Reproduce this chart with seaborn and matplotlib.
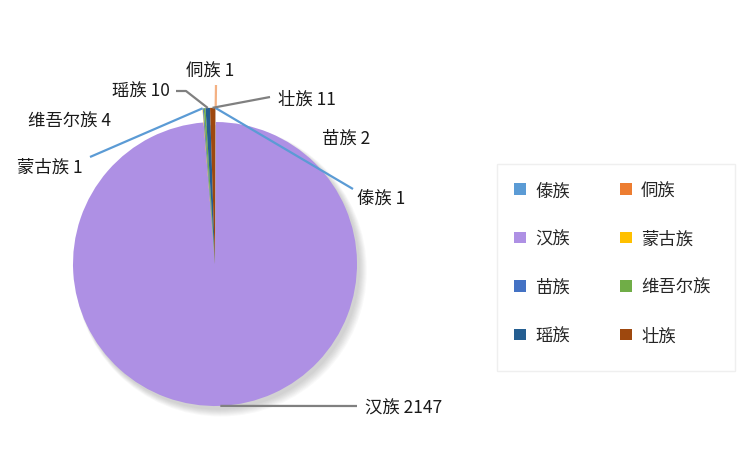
import numpy as np
import matplotlib
matplotlib.use('Agg')
import matplotlib.pyplot as plt
from matplotlib.patches import Circle, Rectangle
import seaborn as sns

# --- data ---
groups = ['傣族', '侗族', '汉族', '蒙古族', '苗族', '维吾尔族', '瑶族', '壮族']
counts = [1, 1, 2147, 1, 2, 4, 10, 11]
colors = ['#5B9BD5', '#ED7D31', '#AE90E4', '#FFC000',
          '#4472C4', '#70AD47', '#255E91', '#9E480E']

# --- layout (pixels of the 751x452 output) ---
W, H = 751, 452
CX, CY, R = 215, 265, 142


def px(x, y):
    return ((x - CX) / R, (CY - y) / R)


# label text position (px) and alignment
label_pos = {
    '傣族': (357, 199, 'left'),
    '侗族': (210, 72, 'center'),
    '汉族': (365, 409, 'left'),
    '蒙古族': (17, 168, 'left'),
    '苗族': (322, 139, 'left'),
    '维吾尔族': (28, 122, 'left'),
    '瑶族': (170, 92, 'right'),
    '壮族': (278, 100, 'left'),
}
# leader line points (px), drawn from the wedge outward
leaders = {
    '傣族': ([(353, 190)], '#5B9BD5'),
    '侗族': ([(216, 86)], '#F4B183'),
    '汉族': ([(357, 407)], '#808080'),
    '蒙古族': ([(90, 158)], '#5B9BD5'),
    '瑶族': ([(186, 92), (176, 92)], '#808080'),
    '壮族': ([(270, 98)], '#808080'),
}

sns.set_theme(style='white')
plt.rcParams['font.family'] = ['Noto Sans CJK SC', 'DejaVu Sans']

fig = plt.figure(figsize=(W / 100, H / 100), dpi=100)
ax = fig.add_axes([0, 0, 1, 1])

# soft shadow under the pie
for i in range(8):
    ax.add_patch(Circle((0.02 + 0.003 * i, -0.025 - 0.003 * i), 1.0 + 0.004 * i,
                        color='#555555', alpha=0.035, lw=0, zorder=0))

wedges, _ = ax.pie(counts, colors=colors, startangle=90, counterclock=False,
                   wedgeprops=dict(linewidth=0), radius=1.0)
for w in wedges:
    w.set_zorder(2)

# small slices poke out a little past the big one
big = counts.index(max(counts))
for i, w in enumerate(wedges):
    if i != big:
        w.set_radius(1.1)
        w.set_zorder(3)

# data labels with leader lines
for i, w in enumerate(wedges):
    name = groups[i]
    mid = np.deg2rad((w.theta1 + w.theta2) / 2)
    r = w.r
    anchor = (r * np.cos(mid), r * np.sin(mid))
    if name in leaders:
        pts, lc = leaders[name]
        xs = [anchor[0]] + [px(*p)[0] for p in pts]
        ys = [anchor[1]] + [px(*p)[1] for p in pts]
        ax.plot(xs, ys, color=lc, lw=1.6, zorder=4, solid_capstyle='butt')
    tx, ty, ha = label_pos[name]
    x, y = px(tx, ty)
    ax.text(x, y, f'{name} {counts[i]}', ha=ha, va='center',
            fontsize=12.5, color='#1a1a1a', zorder=5)

ax.set_xlim(-CX / R, (W - CX) / R)
ax.set_ylim(-(H - CY) / R, CY / R)
ax.set_aspect('auto')
ax.axis('off')

# legend box
fig.patches.append(Rectangle((497 / W, 1 - 372 / H), 238 / W, 207 / H,
                             transform=fig.transFigure, facecolor='white',
                             edgecolor='#efefef', lw=1.0, zorder=0))

# legend, row-wise order in two columns
order = list(range(0, len(groups), 2)) + list(range(1, len(groups), 2))
leg = fig.legend([wedges[i] for i in order], [groups[i] for i in order],
                 ncol=2, loc='upper left',
                 bbox_to_anchor=(497 / W, 1 - 165 / H), borderaxespad=0,
                 fontsize=12.5, frameon=False,
                 handlelength=0.65, handleheight=0.65, handletextpad=0.55,
                 labelspacing=1.75, columnspacing=2.9, borderpad=1.0)

fig.savefig('out.png', dpi=100)
